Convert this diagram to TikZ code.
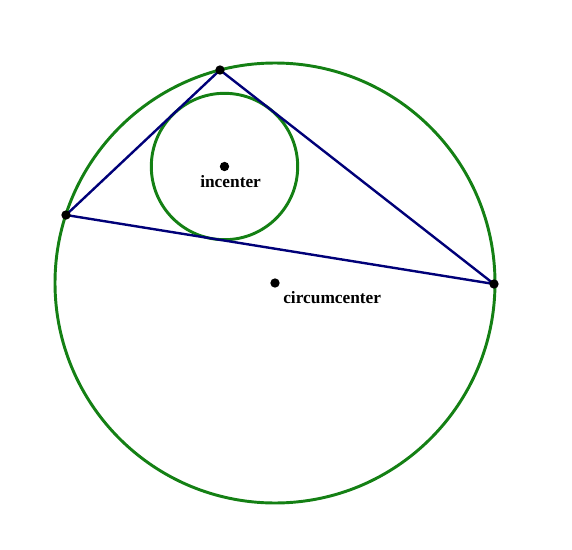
\documentclass[tikz,border=0pt]{standalone}
\usepackage{fontspec}
\setmainfont{Liberation Serif}
\definecolor{circgreen}{RGB}{20,128,20}
\definecolor{trinavy}{RGB}{0,0,120}
\tikzset{
  dot/.style={circle,fill=black,inner sep=0pt,minimum size=7pt},
  lbl/.style={anchor=north west,inner sep=0.75pt,font=\fontsize{13}{15}\selectfont\bfseries},
}
\begin{document}
\begin{tikzpicture}[x=0.75pt,y=0.75pt,yscale=-1,xscale=1]
            \useasboundingbox (0,0) rectangle (572,550);
            % Points
            \coordinate (A) at (220,70);
            \coordinate (B) at (66,215);
            \coordinate (C) at (494,284);
            \coordinate (O) at (275,283);
            \coordinate (I) at (224.5,166.5);
            %Shape: Circle circumcircle
            \draw [color=circgreen, line width=2.2pt] (O) circle (220);
            %Shape: Circle incircle
            \draw [color=circgreen, line width=2.2pt] (I) circle (73.2);
            %Straight Lines triangle
            \draw [color=trinavy, line width=1.8pt, line join=round] (A) -- (B) -- (C) -- cycle;
            % Dots
            \node [dot] (dA) at (A) {};
            \node [dot] (dB) at (B) {};
            \node [dot] (dC) at (C) {};
            \node [dot] (dO) at (O) {};
            \node [dot] (dI) at (I) {};
            % Text Node
            \node [lbl] (incenter) at (199,174.5) {incenter};
            % Text Node
            \node [lbl] (circumcenter) at (282,290) {circumcenter};
\end{tikzpicture}
\end{document}
